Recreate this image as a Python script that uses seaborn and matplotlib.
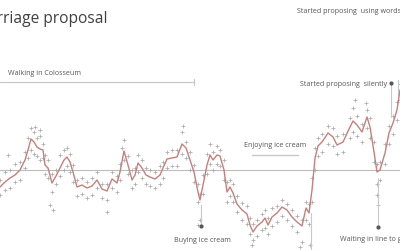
import matplotlib
matplotlib.use("Agg")
import matplotlib.pyplot as plt
import seaborn as sns
import pandas as pd

# smoothed series
line_x = [0,5,10,15,20,25,28,31,34,37,40,43,45,48,52,56,60,64,67,70,73,77,82,87,92,97,102,107,112,117,
          120,124,128,132,135,138,142,146,150,155,160,163,167,172,177,182,186,190,194,198,200,203,207,210,213,
          217,220,224,227,230,233,237,242,247,250,253,257,262,265,268,272,277,282,287,292,297,302,306,309,312,
          315,318,322,328,333,337,343,350,353,357,362,367,370,374,377,380,385,389,393,397,400]
line_v = [63,68,72,75,80,90,100,111,108,103,101,100,85,82,67,74,82,90,93,88,78,63,65,62,64,70,61,59,71,67,
          78,99,85,70,75,87,82,75,73,71,75,82,91,92,93,106,102,90,78,58,50,65,85,95,90,
          95,94,80,58,63,57,46,40,36,25,18,24,28,32,25,33,37,43,40,33,28,24,42,37,60,
          92,104,108,117,113,105,108,123,129,125,118,133,123,98,78,80,97,117,127,140,160]
# raw readings
raw_hi = [70,78,80,86,88,98,112,122,118,112,114,106,95,90,76,80,95,100,102,96,85,70,72,68,72,78,66,66,78,74,
          86,110,94,80,82,95,90,82,80,78,84,88,98,100,100,118,108,98,85,66,56,75,96,106,98,
          104,100,90,68,70,66,54,47,44,32,26,30,36,40,32,42,44,50,46,40,34,30,48,46,72,
          102,112,116,124,122,114,116,132,142,134,126,140,132,108,86,88,106,124,134,148,166]
raw_lo = [55,60,62,68,70,82,92,100,96,94,90,92,76,72,58,66,74,80,84,78,68,54,56,52,55,62,52,50,62,58,
          70,90,76,62,66,78,72,66,64,62,66,72,82,84,84,96,92,80,68,48,30,56,76,86,80,
          86,84,70,48,54,48,38,30,26,16,10,14,20,22,16,24,28,34,30,24,18,8,30,26,48,
          80,94,98,106,104,96,98,112,118,114,108,122,112,88,66,70,86,106,116,130,150]
extra_x = [8,35,40,50,53,107,122,183,198,252,300,310,355,366,377,378]
extra_v = [95,123,120,45,40,38,102,124,25,5,3,5,150,147,55,45]
baseline = 80

smooth = pd.DataFrame({"x": line_x, "v": line_v})
raw = pd.DataFrame({"x": line_x * 2 + extra_x, "v": raw_hi + raw_lo + extra_v})

sns.set_theme(style="white")
plt.rcParams["font.family"] = ["Open Sans", "DejaVu Sans"]

fig = plt.figure(figsize=(4, 2.5), dpi=100)
ax = fig.add_axes([0, 0, 1, 1])
ax.set_xlim(0, 400)
ax.set_ylim(0, 250)
ax.axis("off")

gray = "#c8c8c8"
ax.axhline(baseline, color="#bdbdbd", lw=0.8, zorder=1)

sns.scatterplot(data=raw, x="x", y="v", ax=ax, marker="+", s=6, color="#ababab",
                linewidth=0.55, legend=False, zorder=2)
sns.lineplot(data=smooth, x="x", y="v", ax=ax, color="#c4807c", lw=1.0,
             legend=False, zorder=3)

# title
ax.text(107, 227, "Marriage proposal", ha="right", va="baseline", fontsize=11.2,
        color="#404040")

# Walking in Colosseum
ax.plot([0, 194], [168, 168], color=gray, lw=0.9)
ax.plot([194, 194], [165, 171], color=gray, lw=0.9)
ax.text(8, 175, "Walking in Colosseum", fontsize=5.1, color="#555555", va="baseline")

# Started proposing using words
ax.text(297, 237, "Started proposing  using words", fontsize=5.1, color="#555555", va="baseline")
ax.plot([398, 398], [170, 155], color=gray, lw=0.8)

# Started proposing silently
ax.text(300, 164, "Started proposing  silently", fontsize=5.1, color="#555555", va="baseline")
ax.plot([391, 391], [167, 133], color=gray, lw=0.8)
ax.plot([391], [167], marker="o", ms=2, color="#555555")

# Enjoying ice cream
ax.text(275, 103, "Enjoying ice cream", fontsize=5.1, color="#555555", ha="center", va="baseline")
ax.plot([252, 298], [95, 95], color=gray, lw=1.0)

# Buying ice cream
ax.plot([201, 201], [45, 24], color=gray, lw=0.8)
ax.plot([201], [24], marker="o", ms=2, color="#555555")
ax.text(202, 8, "Buying ice cream", fontsize=5.1, color="#555555", ha="center", va="baseline")

# Waiting in line
ax.plot([378, 378], [72, 23], color=gray, lw=0.8)
ax.plot([378], [23], marker="o", ms=2, color="#555555")
ax.text(340, 9, "Waiting in line to get", fontsize=5.1, color="#555555", va="baseline")

# line going below
ax.plot([311, 311], [37, 0], color=gray, lw=0.8)

fig.savefig("out.png", dpi=100)
